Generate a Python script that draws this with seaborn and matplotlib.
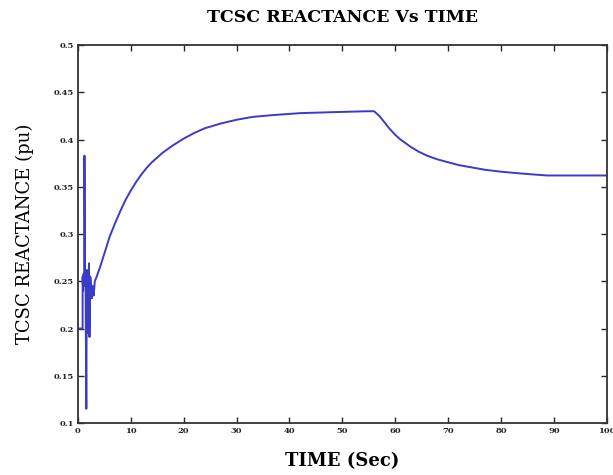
import numpy as np
import pandas as pd
import matplotlib
matplotlib.use('Agg')
import matplotlib.pyplot as plt
import seaborn as sns

# values
time_sec = [0, 0.9, 0.9, 1.0, 1.1, 1.2, 1.25, 1.35, 1.45, 1.6, 1.7, 1.8, 1.9, 2.0, 2.1, 2.2,
            2.35, 2.5, 2.65, 2.8, 3.0, 3.2, 3.5, 4.2, 5.1, 6.0, 7.0, 8.0, 9.0, 10.0, 11.0,
            12.0, 13.0, 14.0, 15.0, 16.0, 18.0, 20.0, 22.0, 24.0, 27.0, 30.0, 33.0, 37.0,
            42.0, 48.0, 54.6, 56.0, 57.0, 58.0, 59.0, 60.0, 61.0, 62.0, 63.0, 64.5, 66.0,
            68.0, 70.0, 72.0, 74.0, 77.0, 80.0, 84.0, 88.7, 94.0, 100.0]
reactance = [0.2, 0.2, 0.255, 0.24, 0.258, 0.245, 0.383, 0.25, 0.26, 0.115, 0.262, 0.24,
             0.258, 0.195, 0.269, 0.191, 0.255, 0.245, 0.232, 0.245, 0.235, 0.25, 0.254,
             0.265, 0.281, 0.297, 0.311, 0.324, 0.336, 0.346, 0.355, 0.363, 0.370, 0.376,
             0.381, 0.386, 0.394, 0.401, 0.407, 0.412, 0.417, 0.421, 0.424, 0.426, 0.428,
             0.429, 0.430, 0.430, 0.425, 0.418, 0.411, 0.405, 0.400, 0.396, 0.392, 0.387,
             0.383, 0.379, 0.376, 0.373, 0.371, 0.368, 0.366, 0.364, 0.362, 0.362, 0.362]

x_ticks = list(range(0, 101, 10))
y_ticks = [0.1, 0.15, 0.2, 0.25, 0.3, 0.35, 0.4, 0.45, 0.5]
y_tick_labels = ['0.1', '0.15', '0.2', '0.25', '0.3', '0.35', '0.4', '0.45', '0.5']

df = pd.DataFrame({'Time': time_sec, 'Reactance': reactance})

sns.set_style('ticks')
plt.rcParams['font.family'] = ['DejaVu Serif', 'Liberation Serif']

fig = plt.figure(figsize=(6.13, 4.75), dpi=100)
ax = fig.add_axes([0.127, 0.1095, 0.863, 0.7955])

sns.lineplot(data=df, x='Time', y='Reactance', estimator=None, sort=False,
             color='#3a3acb', linewidth=1.4, ax=ax)

ax.set_xlim(0, 100)
ax.set_ylim(0.1, 0.5)
ax.set_xticks(x_ticks)
ax.set_yticks(y_ticks)
ax.set_yticklabels(y_tick_labels)
ax.tick_params(direction='in', length=4, width=1, labelsize=6,
               top=True, right=True, pad=3)
for lbl in ax.get_xticklabels() + ax.get_yticklabels():
    lbl.set_fontweight('bold')
for sp in ax.spines.values():
    sp.set_visible(True)
    sp.set_linewidth(1.3)
    sp.set_color('#333333')

ax.set_title('TCSC REACTANCE Vs TIME', fontsize=12.5, fontweight='bold', pad=17,
             color='black')
ax.set_xlabel('TIME (Sec)', fontsize=13, fontweight='bold', labelpad=12, color='black')
ax.set_ylabel('TCSC REACTANCE (pu)', fontsize=13, labelpad=14, color='black')

fig.savefig('out.png', dpi=100)
